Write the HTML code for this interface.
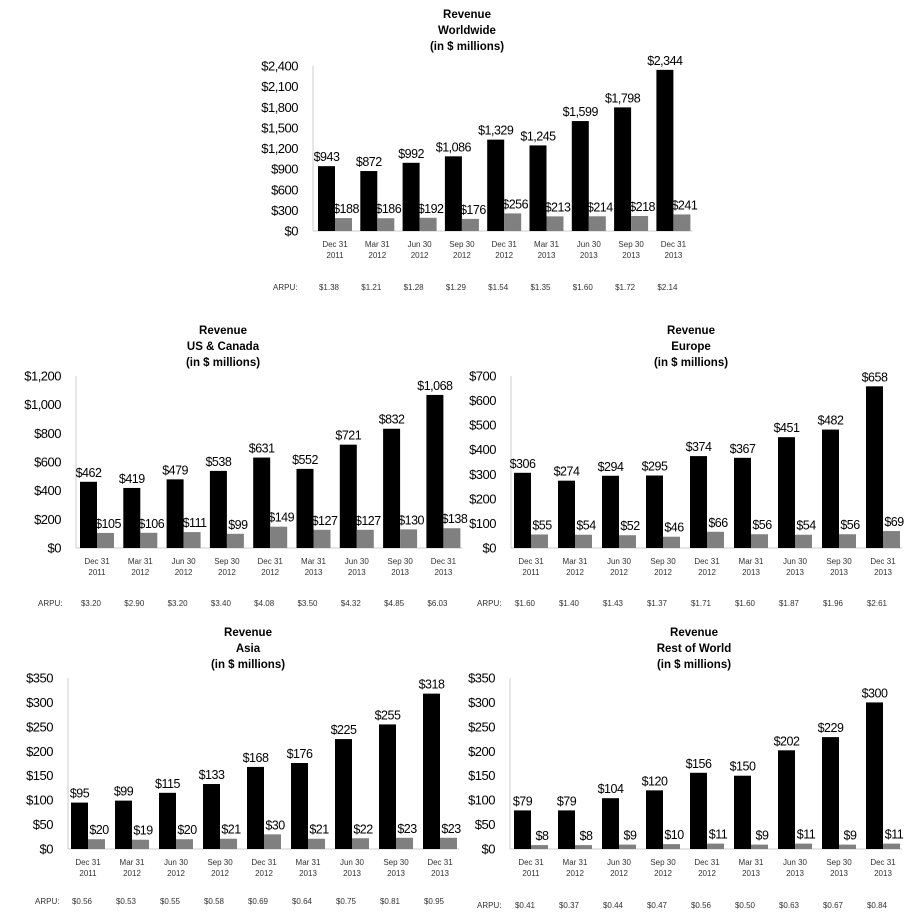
<!DOCTYPE html><html><head><meta charset="utf-8"><style>body{margin:0;background:#fff}svg{display:block}text{font-family:"Liberation Sans",sans-serif}.v{letter-spacing:-0.5px}</style></head><body>
<svg id="s" width="912" height="912" xmlns="http://www.w3.org/2000/svg"></svg>
<script>
var s=document.getElementById('s'),h='';
var Q=[["Dec 31","2011"],["Mar 31","2012"],["Jun 30","2012"],["Sep 30","2012"],["Dec 31","2012"],["Mar 31","2013"],["Jun 30","2013"],["Sep 30","2013"],["Dec 31","2013"]];
function f(v){return '$'+v.toLocaleString('en-US');}
function chart(c){
 var H=c.base-c.top;
 h+='<text x="'+c.tc+'" y="'+c.ty+'" font-size="11.5" font-weight="bold" text-anchor="middle">Revenue</text>';
 h+='<text x="'+c.tc+'" y="'+(c.ty+16)+'" font-size="11.5" font-weight="bold" text-anchor="middle">'+c.name+'</text>';
 h+='<text x="'+c.tc+'" y="'+(c.ty+32)+'" font-size="11.5" font-weight="bold" text-anchor="middle">(in $ millions)</text>';
 h+='<line x1="'+c.ax+'" y1="'+c.top+'" x2="'+c.ax+'" y2="'+c.base+'" stroke="#ccc"/>';
 h+='<line x1="'+c.ax+'" y1="'+c.base+'" x2="'+(c.x0+8*c.sp+36)+'" y2="'+c.base+'" stroke="#ccc"/>';
 for(var t=0;t<=c.max;t+=c.step){var y=c.base-t/c.max*H;
  h+='<text class="v" x="'+(c.ax-15)+'" y="'+(y+4.5)+'" font-size="13" text-anchor="end">'+f(t)+'</text>';}
 for(var i=0;i<9;i++){var x=c.x0+i*c.sp,b=c.b[i],g=c.g[i];
  var yb=c.base-b/c.max*H,yg=c.base-g/c.max*H;
  h+='<rect x="'+x+'" y="'+yb+'" width="17" height="'+(c.base-yb)+'" fill="#000"/>';
  h+='<rect x="'+(x+17)+'" y="'+yg+'" width="17" height="'+(c.base-yg)+'" fill="#808080"/>';
  h+='<text class="v" x="'+(x+8.5)+'" y="'+(yb-5)+'" font-size="12.5" text-anchor="middle">'+f(b)+'</text>';
  h+='<text class="v" x="'+(x+28)+'" y="'+(yg-5)+'" font-size="12.5" text-anchor="middle">'+f(g)+'</text>';
  h+='<text x="'+(x+17)+'" y="'+(c.base+16)+'" font-size="8" fill="#333" text-anchor="middle">'+Q[i][0]+'</text>';
  h+='<text x="'+(x+17)+'" y="'+(c.base+27)+'" font-size="8" fill="#333" text-anchor="middle">'+Q[i][1]+'</text>';
  h+='<text x="'+(x+11)+'" y="'+c.ay+'" font-size="8" fill="#333" text-anchor="middle">$'+c.a[i]+'</text>';}
 h+='<text x="'+c.alx+'" y="'+c.ay+'" font-size="8" fill="#333">ARPU:</text>';
}
chart({name:"Worldwide",tc:467,ty:18,ax:313,top:66,base:231,max:2400,step:300,x0:318,sp:42.3,ay:290,alx:273,
 b:[943,872,992,1086,1329,1245,1599,1798,2344],g:[188,186,192,176,256,213,214,218,241],
 a:["1.38","1.21","1.28","1.29","1.54","1.35","1.60","1.72","2.14"]});
chart({name:"US &amp; Canada",tc:223,ty:334,ax:76,top:376,base:548,max:1200,step:200,x0:80,sp:43.3,ay:606,alx:38,
 b:[462,419,479,538,631,552,721,832,1068],g:[105,106,111,99,149,127,127,130,138],
 a:["3.20","2.90","3.20","3.40","4.08","3.50","4.32","4.85","6.03"]});
chart({name:"Europe",tc:691,ty:334,ax:511,top:376,base:548,max:700,step:100,x0:514,sp:44,ay:606,alx:477,
 b:[306,274,294,295,374,367,451,482,658],g:[55,54,52,46,66,56,54,56,69],
 a:["1.60","1.40","1.43","1.37","1.71","1.60","1.87","1.96","2.61"]});
chart({name:"Asia",tc:248,ty:636,ax:68,top:678,base:849,max:350,step:50,x0:71,sp:44,ay:904,alx:35,
 b:[95,99,115,133,168,176,225,255,318],g:[20,19,20,21,30,21,22,23,23],
 a:["0.56","0.53","0.55","0.58","0.69","0.64","0.75","0.81","0.95"]});
chart({name:"Rest of World",tc:694,ty:636,ax:510,top:678,base:849,max:350,step:50,x0:514,sp:44,ay:908,alx:477,
 b:[79,79,104,120,156,150,202,229,300],g:[8,8,9,10,11,9,11,9,11],
 a:["0.41","0.37","0.44","0.47","0.56","0.50","0.63","0.67","0.84"]});
s.innerHTML=h;
</script></body></html>
